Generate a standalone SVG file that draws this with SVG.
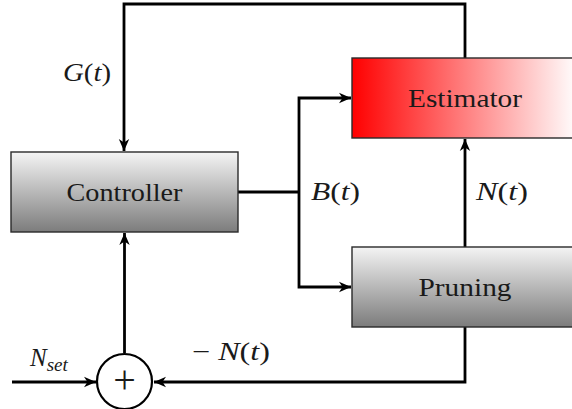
<svg xmlns="http://www.w3.org/2000/svg" width="572" height="409" viewBox="0 0 572 409">
  <defs>
    <linearGradient id="grayShade" x1="0" y1="0" x2="0" y2="1">
      <stop offset="0" stop-color="#f4f4f4"/>
      <stop offset="1" stop-color="#7c7c7c"/>
    </linearGradient>
    <linearGradient id="redShade" x1="0" y1="0" x2="1" y2="0">
      <stop offset="0" stop-color="#ff0000"/>
      <stop offset="1" stop-color="#ffffff"/>
    </linearGradient>
    <marker id="arrow" markerUnits="userSpaceOnUse" markerWidth="16" markerHeight="14" viewBox="-14 -7 16 14" refX="0" refY="0" orient="auto">
      <path d="M0,0 L-12,-5.2 L-8.5,0 L-12,5.2 Z" fill="#000"/>
    </marker>
  </defs>
  <style>
    .box { stroke: #2a2a2a; stroke-width: 1.4; }
    .wire { fill: none; stroke: #000; stroke-width: 2.8; }
    .lbl { fill: #1a1a1a; text-anchor: middle; }
    .math { font-size: 25px; font-style: italic; fill: #1a1a1a; }
    .up { font-style: normal; }
  </style>

  <!-- connectors -->
  <g id="connectors">
    <path class="wire" d="M465,58 V4 H124 V151" marker-end="url(#arrow)"/>
    <path class="wire" d="M238,192 H299"/>
    <path class="wire" d="M299,192 V98 H351" marker-end="url(#arrow)"/>
    <path class="wire" d="M299,192 V287 H351" marker-end="url(#arrow)"/>
    <path class="wire" d="M465,247 V139" marker-end="url(#arrow)"/>
    <path class="wire" d="M465,327 V382 H154" marker-end="url(#arrow)"/>
    <path class="wire" d="M12,382 H96" marker-end="url(#arrow)"/>
    <path class="wire" d="M124.5,353 V233" marker-end="url(#arrow)"/>
  </g>

  <!-- signal labels -->
  <g id="labels" font-family="'Liberation Serif', serif">
    <text class="math" x="63" y="81" textLength="48" lengthAdjust="spacingAndGlyphs">G<tspan class="up">(</tspan>t<tspan class="up">)</tspan></text>
    <text class="math" x="311" y="200" textLength="49" lengthAdjust="spacingAndGlyphs">B<tspan class="up">(</tspan>t<tspan class="up">)</tspan></text>
    <text class="math" x="476" y="200" textLength="52" lengthAdjust="spacingAndGlyphs">N<tspan class="up">(</tspan>t<tspan class="up">)</tspan></text>
    <text class="math" x="30" y="366">N<tspan style="font-size:19px" dy="5">set</tspan></text>
    <text class="math" x="192" y="360" textLength="78" lengthAdjust="spacingAndGlyphs"><tspan class="up">− </tspan>N<tspan class="up">(</tspan>t<tspan class="up">)</tspan></text>
  </g>

  <g id="controller" font-family="'Liberation Serif', serif">
    <rect class="box" x="11" y="152" width="227" height="80" fill="url(#grayShade)"/>
    <text class="lbl" x="124.5" y="201" font-size="26" textLength="116" lengthAdjust="spacingAndGlyphs">Controller</text>
  </g>

  <g id="estimator" font-family="'Liberation Serif', serif">
    <rect class="box" x="352" y="58" width="226" height="80" fill="url(#redShade)"/>
    <text class="lbl" x="465" y="107" font-size="26" textLength="114" lengthAdjust="spacingAndGlyphs">Estimator</text>
  </g>

  <g id="pruning" font-family="'Liberation Serif', serif">
    <rect class="box" x="352" y="247" width="226" height="80" fill="url(#grayShade)"/>
    <text class="lbl" x="465" y="296" font-size="26" textLength="93" lengthAdjust="spacingAndGlyphs">Pruning</text>
  </g>

  <g id="sum" font-family="'Liberation Serif', serif">
    <circle cx="124.5" cy="381.5" r="27.5" fill="#fff" stroke="#000" stroke-width="2.2"/>
    <text class="lbl" x="124.5" y="393" font-size="40">+</text>
  </g>
</svg>
